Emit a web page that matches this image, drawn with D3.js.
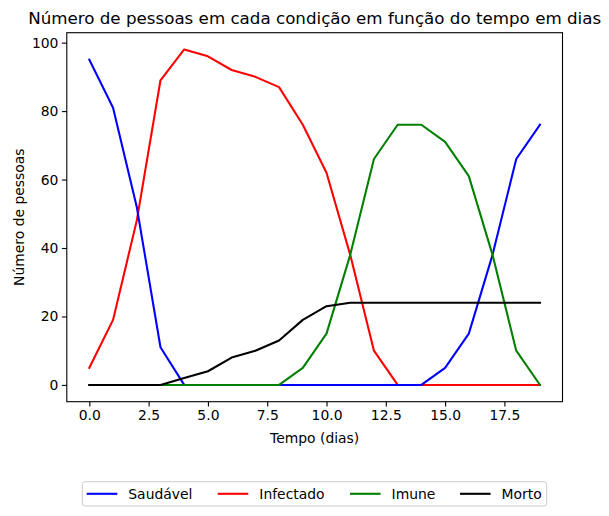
<!DOCTYPE html>
<html>
<head>
<meta charset="utf-8">
<script src="https://cdn.jsdelivr.net/npm/d3@7"></script>
<style>
  body { margin: 0; background: #fff; }
  svg text { font-family: "DejaVu Sans", sans-serif; fill: #000; }
</style>
</head>
<body>
<div id="chart"></div>
<script>
// dias 0..19
var days = d3.range(0, 20);
var saudavel  = [95, 81, 52, 11, 0, 0, 0, 0, 0, 0, 0, 0, 0, 0, 0, 5, 15, 38, 66, 76];
var infectado = [5, 19, 48, 89, 98, 96, 92, 90, 87, 76, 62, 38, 10, 0, 0, 0, 0, 0, 0, 0];
var imune     = [0, 0, 0, 0, 0, 0, 0, 0, 0, 5, 15, 38, 66, 76, 76, 71, 61, 38, 10, 0];
var morto     = [0, 0, 0, 0, 2, 4, 8, 10, 13, 19, 23, 24, 24, 24, 24, 24, 24, 24, 24, 24];
var seriesNames = ["Saudável", "Infectado", "Imune", "Morto"];
var seriesColors = ["#0000ff", "#ff0000", "#008000", "#000000"];
var xTicks = [0, 2.5, 5, 7.5, 10, 12.5, 15, 17.5];
var yTicks = [0, 20, 40, 60, 80, 100];

var svgWidth = 609, svgHeight = 516;
var margin = { top: 32.7, right: 46.5, bottom: 114.3, left: 66.8 };
var width = svgWidth - margin.left - margin.right;
var height = svgHeight - margin.top - margin.bottom;

var svg = d3.select("#chart").append("svg")
    .attr("width", svgWidth)
    .attr("height", svgHeight);

var chartGroup = svg.append("g")
    .attr("transform", `translate(${margin.left}, ${margin.top})`);

// matplotlib-style 5% margins
var xScale = d3.scaleLinear().domain([-0.95, 19.95]).range([0, width]);
var yScale = d3.scaleLinear().domain([-4.9, 102.9]).range([height, 0]);

var bottomAxis = d3.axisBottom(xScale).tickValues(xTicks)
    .tickFormat(d3.format(".1f")).tickSize(4.9).tickPadding(3.5);
var leftAxis = d3.axisLeft(yScale).tickValues(yTicks)
    .tickFormat(d3.format("d")).tickSize(4.9).tickPadding(3.5);

var gx = chartGroup.append("g")
    .attr("transform", `translate(0, ${height})`)
    .call(bottomAxis);
var gy = chartGroup.append("g").call(leftAxis);

[gx, gy].forEach(function(g) {
    g.select(".domain").remove();
    g.selectAll("line").attr("stroke", "#000").attr("stroke-width", 1.1);
    g.selectAll("text").attr("font-size", "13.9px").attr("font-family", "DejaVu Sans");
});

var allSeries = [saudavel, infectado, imune, morto];

var line = d3.line()
    .x((d, i) => xScale(days[i]))
    .y(d => yScale(d));

// drawing order seen in the picture: red under blue, green and black on top
[1, 0, 2, 3].forEach(function(k) {
    chartGroup.append("path")
        .datum(allSeries[k])
        .attr("fill", "none")
        .attr("stroke", seriesColors[k])
        .attr("stroke-width", 2.08)
        .attr("stroke-linejoin", "round")
        .attr("stroke-linecap", "square")
        .attr("d", line);
});

// frame
chartGroup.append("rect")
    .attr("width", width)
    .attr("height", height)
    .attr("fill", "none")
    .attr("stroke", "#000")
    .attr("stroke-width", 1.1);

// title and labels
svg.append("text")
    .attr("x", margin.left + width / 2)
    .attr("y", 24)
    .attr("text-anchor", "middle")
    .attr("font-size", "16.7px")
    .text("Número de pessoas em cada condição em função do tempo em dias");

svg.append("text")
    .attr("x", margin.left + width / 2)
    .attr("y", 443)
    .attr("text-anchor", "middle")
    .attr("font-size", "13.9px")
    .text("Tempo (dias)");

svg.append("text")
    .attr("transform", `translate(24, ${margin.top + height / 2}) rotate(-90)`)
    .attr("text-anchor", "middle")
    .attr("font-size", "13.9px")
    .text("Número de pessoas");

// legend
var legend = svg.append("g");
legend.append("rect")
    .attr("x", 82.3).attr("y", 481.7)
    .attr("width", 464.4).attr("height", 24.3)
    .attr("rx", 3)
    .attr("fill", "#fff")
    .attr("stroke", "#cccccc")
    .attr("stroke-width", 1);

var legendX = [86.7, 217.7, 350, 460];
seriesNames.forEach(function(name, k) {
    var lx = legendX[k];
    legend.append("line")
        .attr("x1", lx).attr("x2", lx + 30.6)
        .attr("y1", 493.8).attr("y2", 493.8)
        .attr("stroke", seriesColors[k])
        .attr("stroke-width", 2.08);
    legend.append("text")
        .attr("x", lx + 41.6)
        .attr("y", 498.8)
        .attr("font-size", "13.9px")
        .text(name);
});
</script>
</body>
</html>
